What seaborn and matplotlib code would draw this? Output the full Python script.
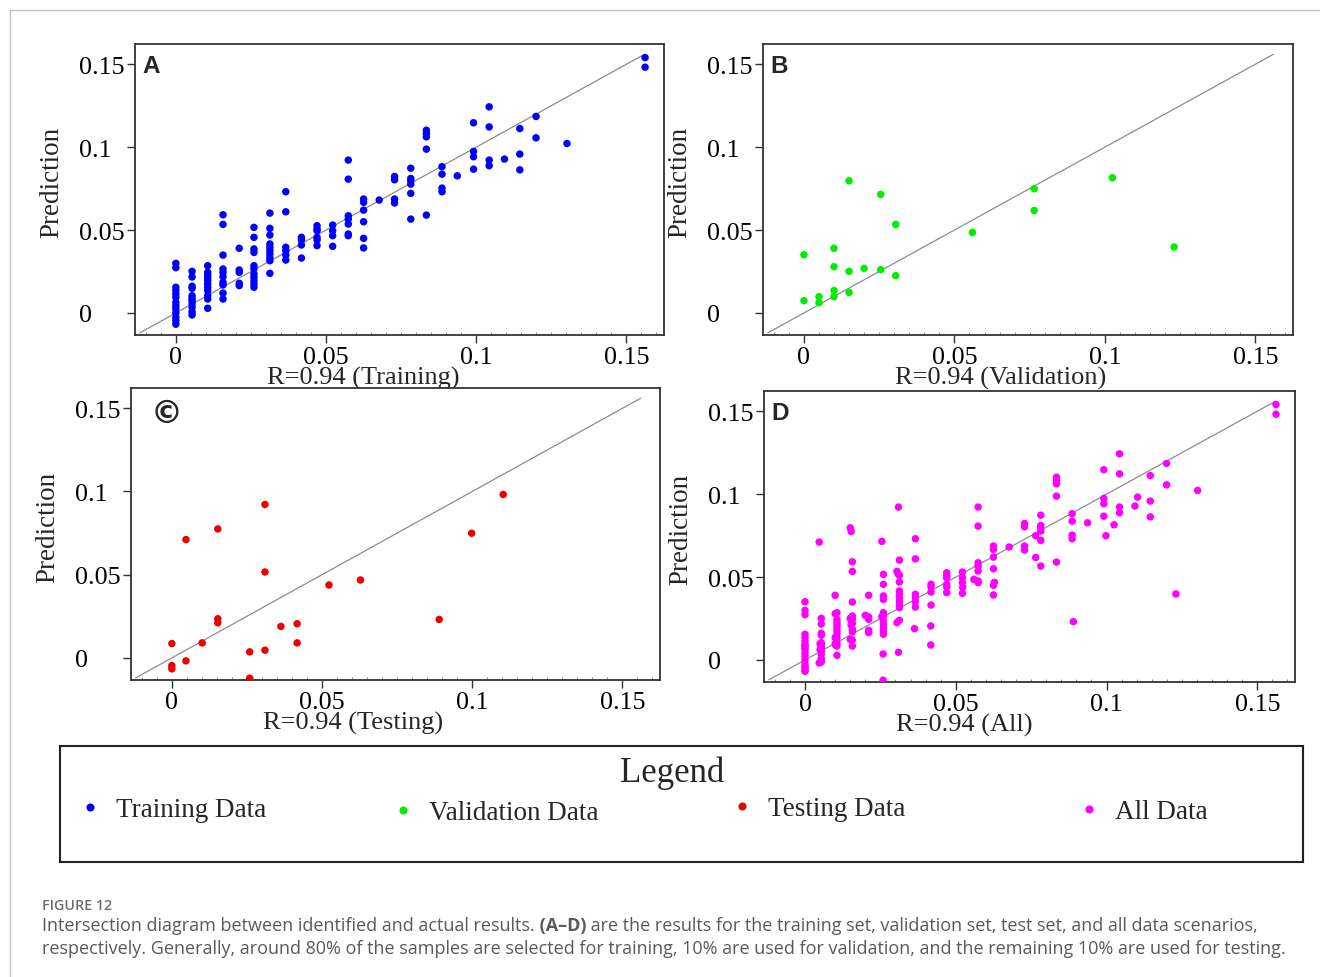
import numpy as np
import pandas as pd
import matplotlib
matplotlib.use("Agg")
import matplotlib.pyplot as plt
import seaborn as sns
from matplotlib.lines import Line2D
from matplotlib.ticker import MultipleLocator

# ---------------- data ----------------
train_actual = (
    [0.0] * 13 + [0.0054] * 11 + [0.0106] * 11 + [0.0157] * 10 + [0.0211] * 5
    + [0.026] * 11 + [0.0313] * 10 + [0.0366] * 6 + [0.0418] * 4 + [0.047] * 6
    + [0.0522] * 4 + [0.0574] * 7 + [0.0625] * 6 + [0.0677] * 1 + [0.0728] * 4
    + [0.0782] * 6 + [0.0834] * 5 + [0.0886] * 4 + [0.0937] * 1 + [0.0991] * 4
    + [0.1043] * 4 + [0.1094] * 1 + [0.1145] * 3 + [0.1199] * 2 + [0.1302] * 1
    + [0.1562] * 2
)
train_pred = [
    0.0299, 0.0273, 0.0155, 0.0135, 0.0114, 0.0094, 0.0064, 0.0044, 0.0024, 0.0, -0.0026, -0.0046, -0.0068,
    0.0251, 0.0217, 0.0161, 0.0149, 0.0104, 0.0088, 0.0074, 0.0054, 0.0034, 0.0008, -0.0012,
    0.0285, 0.0245, 0.0229, 0.0213, 0.0195, 0.0175, 0.0155, 0.0135, 0.0104, 0.0084, 0.0028,
    0.0592, 0.0534, 0.0349, 0.0265, 0.0245, 0.0219, 0.0185, 0.0169, 0.0120, 0.0084,
    0.0390, 0.0259, 0.0245, 0.0179, 0.0165,
    0.0516, 0.0456, 0.0386, 0.0365, 0.0285, 0.0265, 0.0235, 0.0215, 0.0195, 0.0175, 0.0155,
    0.0602, 0.0510, 0.0470, 0.0416, 0.0396, 0.0376, 0.0355, 0.0335, 0.0315, 0.0239,
    0.0731, 0.0610, 0.0396, 0.0376, 0.0349, 0.0319,
    0.0456, 0.0440, 0.0410, 0.0331,
    0.0526, 0.0506, 0.0496, 0.0456, 0.0440, 0.0406,
    0.0530, 0.0496, 0.0466, 0.0402,
    0.0922, 0.0807, 0.0586, 0.0566, 0.0536, 0.0476, 0.0466,
    0.0687, 0.0667, 0.0620, 0.0550, 0.0450, 0.0392,
    0.0681,
    0.0823, 0.0803, 0.0687, 0.0663,
    0.0873, 0.0811, 0.0797, 0.0777, 0.0721, 0.0566,
    0.1102, 0.1082, 0.1062, 0.0988, 0.0590,
    0.0882, 0.0837, 0.0753, 0.0731,
    0.0827,
    0.1147, 0.0974, 0.0942, 0.0867,
    0.1243, 0.1122, 0.0922, 0.0888,
    0.0928,
    0.1112, 0.0958, 0.0863,
    0.1185, 0.1056,
    0.1022,
    0.1540, 0.1482,
]

val_actual = [0.0, 0.0, 0.0050, 0.0050, 0.0100, 0.0100, 0.0100, 0.0100, 0.0150, 0.0150, 0.0150,
              0.0200, 0.0255, 0.0255, 0.0305, 0.0305, 0.0560, 0.0765, 0.0765, 0.1025, 0.1230]
val_pred = [0.0351, 0.0074, 0.0098, 0.0062, 0.0390, 0.0279, 0.0135, 0.0098, 0.0797, 0.0251, 0.0124,
            0.0269, 0.0715, 0.0261, 0.0534, 0.0225, 0.0486, 0.0749, 0.0618, 0.0815, 0.0398]

test_actual = [0.0, 0.0, 0.0, 0.0047, 0.0047, 0.0101, 0.0153, 0.0153, 0.0153, 0.0259, 0.0259,
               0.0310, 0.0310, 0.0310, 0.0363, 0.0417, 0.0417, 0.0523, 0.0628, 0.0890, 0.0998, 0.1103]
test_pred = [0.0086, -0.0046, -0.0066, 0.0711, -0.0018, 0.0090, 0.0775, 0.0235, 0.0211, 0.0036, -0.0122,
             0.0922, 0.0516, 0.0046, 0.0189, 0.0205, 0.0090, 0.0438, 0.0468, 0.0231, 0.0749, 0.0982]

set_names = ["Training", "Validation", "Testing", "All"]
legend_labels = ["Training Data", "Validation Data", "Testing Data", "All Data"]
panel_letters = ["A", "B", "\u00a9", "D"]
colors = ["#0000ff", "#00ee00", "#ee0000", "#ff00ff"]
tick_values = [0, 0.05, 0.1, 0.15]
tick_labels = ["0", "0.05", "0.1", "0.15"]
r_value = 0.94
diag_line = [-0.012, 0.156]

# ---------------- frames ----------------
train_df = pd.DataFrame({"actual": train_actual, "pred": train_pred})
val_df = pd.DataFrame({"actual": val_actual, "pred": val_pred})
test_df = pd.DataFrame({"actual": test_actual, "pred": test_pred})
all_df = pd.concat([train_df, val_df, test_df], ignore_index=True)
frames = [train_df, val_df, test_df, all_df]

sns.set_theme(style="white")
plt.rcParams["font.family"] = ["Liberation Serif", "DejaVu Serif"]

W, H = 1320, 978
fig = plt.figure(figsize=(W / 100, H / 100), dpi=100)
fig.patch.set_facecolor("white")


def px_axes(l, t, r, b):
    return fig.add_axes([l / W, 1 - b / H, (r - l) / W, (b - t) / H])


boxes = [(135, 45, 664, 336), (763, 45, 1293, 336), (131, 389, 660, 681), (764, 392, 1295, 683)]
spine_col = "#333333"

for i, (box, df) in enumerate(zip(boxes, frames)):
    ax = px_axes(*box)
    ax.plot(diag_line, diag_line, color="#8c8c8c", lw=0.9, zorder=1)
    sns.scatterplot(data=df, x="actual", y="pred", color=colors[i], s=29,
                    edgecolor="none", linewidth=0, ax=ax, legend=False, zorder=3)
    ax.set_xlim(-0.0136, 0.1625)
    ax.set_ylim(-0.0133, 0.1622)
    ax.set_xticks(tick_values, tick_labels)
    ax.set_yticks(tick_values, tick_labels)
    ax.xaxis.set_minor_locator(MultipleLocator(0.005))
    ax.tick_params(axis="both", which="major", direction="out", length=5.5, width=1.0,
                   color=spine_col, labelsize=18.7, labelcolor="black", bottom=True, left=True)
    ax.tick_params(axis="x", which="major", pad=2.5)
    ax.tick_params(axis="y", which="major", pad=34.5)
    ax.tick_params(axis="x", which="minor", direction="in", length=2.2, width=0.6,
                   color="#777777", bottom=True)
    for lab in ax.get_yticklabels():
        lab.set_horizontalalignment("left")
    for sp in ax.spines.values():
        sp.set_color(spine_col)
        sp.set_linewidth(1.3)
        sp.set_visible(True)
    ax.set_ylabel("Prediction", fontsize=19.5, va="center")
    ax.yaxis.set_label_coords(-0.157, 0.527)
    ax.set_xlabel(f"R={r_value} ({set_names[i]})", fontsize=19, ha="left", va="baseline")
    ax.xaxis.set_label_coords(0.249, -0.168)
    if panel_letters[i] == "\u00a9":
        ax.annotate(panel_letters[i], xy=(0, 1), xycoords="axes fraction", xytext=(14, -7),
                    textcoords="offset points", ha="left", va="top", fontsize=23,
                    fontweight="bold", family=["DejaVu Sans"])
    else:
        ax.annotate(panel_letters[i], xy=(0, 1), xycoords="axes fraction", xytext=(5.5, -7.5),
                    textcoords="offset points", ha="left", va="top", fontsize=17.5,
                    fontweight="bold", family=["Liberation Sans", "DejaVu Sans"])

# ---------------- legend box ----------------
ax_leg = px_axes(60, 747, 1303, 863)
ax_leg.set_xticks([])
ax_leg.set_yticks([])
for sp in ax_leg.spines.values():
    sp.set_color("#222222")
    sp.set_linewidth(1.5)
    sp.set_visible(True)
fig.text(672 / W, 1 - 773 / H, "Legend", ha="center", va="center", fontsize=25)

legend_pos = [(90, 811), (403, 814), (742, 810), (1089, 813)]
for lab, col, (mx, my) in zip(legend_labels, colors, legend_pos):
    h = Line2D([], [], ls="", marker="o", markersize=5.8, color=col, markeredgewidth=0)
    fig.legend(handles=[h], labels=[lab], loc="center left",
               bbox_to_anchor=((mx - 8) / W, 1 - my / H), frameon=False, fontsize=19.5,
               handlelength=0.6, handletextpad=0.67, borderpad=0, borderaxespad=0)

# ---------------- page border ----------------
fig.add_artist(Line2D([10 / W, 1], [1 - 11 / H, 1 - 11 / H], transform=fig.transFigure,
                      color="#c4c4c4", lw=1.0))
fig.add_artist(Line2D([10 / W, 10 / W], [0, 1 - 11 / H], transform=fig.transFigure,
                      color="#c4c4c4", lw=1.0))

# ---------------- caption ----------------
cap_font = ["Open Sans", "DejaVu Sans"]
fig.text(42 / W, 1 - 910 / H, "FIGURE 12", fontsize=10.3, fontweight="semibold",
         color="#6e6e6e", family=cap_font, va="baseline", ha="left")

renderer = fig.canvas.get_renderer()


def rich_line(x_px, y_px, parts, size, color):
    x = x_px / W
    for s, w in parts:
        t = fig.text(x, 1 - y_px / H, s, fontsize=size, fontweight=w, color=color,
                     family=cap_font, va="baseline", ha="left")
        x += t.get_window_extent(renderer).width / W


cap_size = 12.95
cap_color = "#5a5a5a"
rich_line(42, 931, [
    ("Intersection diagram between identified and actual results.", "normal"),
    (" (A\u2013D)", "bold"),
    (" are the results for the training set, validation set, test set, and all data scenarios,", "normal"),
], cap_size, cap_color)
rich_line(42, 954, [
    ("respectively. Generally, around 80% of the samples are selected for training, 10% are used "
     "for validation, and the remaining 10% are used for testing.", "normal"),
], cap_size, cap_color)

fig.savefig("out.png", dpi=100, facecolor="white")
